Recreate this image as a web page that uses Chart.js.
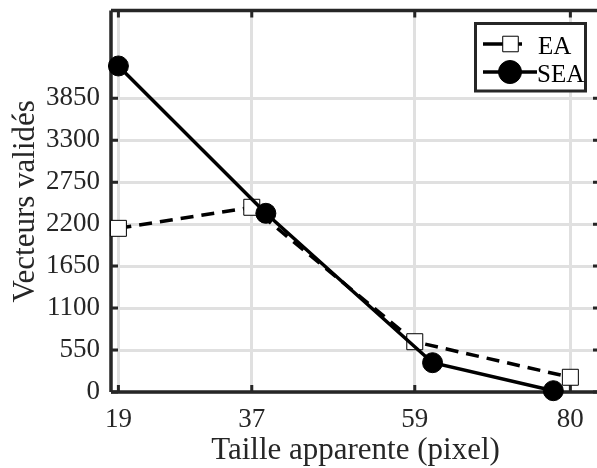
<!DOCTYPE html>
<html><head><meta charset="utf-8">
<script src="https://cdn.jsdelivr.net/npm/chart.js@4/dist/chart.umd.min.js"></script>
<style>html,body{margin:0;padding:0;overflow:hidden;background:#fff;width:597px;height:468px}canvas{display:block}</style>
</head><body>
<canvas id="c" width="600" height="468"></canvas>
<script>
const xTicks = [19, 37, 59, 80];
const yTicks = [0, 550, 1100, 1650, 2200, 2750, 3300, 3850];
const eaX = [19, 37, 59, 80];
const eaY = [2145, 2421, 659, 193];
const seaX = [19, 38.9, 61.4, 77.7];
const seaY = [4273, 2342, 384, 17];
const seriesNames = ['EA', 'SEA'];
const xTitle = 'Taille apparente (pixel)';
const yTitle = 'Vecteurs validés';

const DARK = '#262626';
const GRID = '#e0e0e0';
const SERIF = '"Liberation Serif", "Times New Roman", serif';

const toPts = (xs, ys) => xs.map((x, i) => ({x: x, y: ys[i]}));

const framePlugin = {
  id: 'frame',
  beforeDatasetsDraw(chart) {
    const ctx = chart.ctx, a = chart.chartArea;
    const xs = chart.scales.x, ys = chart.scales.y;
    ctx.save();
    ctx.strokeStyle = DARK;
    ctx.lineWidth = 3.5;
    ctx.beginPath();
    ctx.moveTo(a.left, a.top); ctx.lineTo(a.right, a.top);
    ctx.moveTo(a.left, a.top); ctx.lineTo(a.left, a.bottom);
    ctx.moveTo(a.left, a.bottom); ctx.lineTo(a.right, a.bottom);
    ctx.moveTo(a.right, a.top); ctx.lineTo(a.right, a.bottom);
    ctx.stroke();
    ctx.lineWidth = 3;
    ctx.beginPath();
    xTicks.forEach(v => {
      const px = xs.getPixelForValue(v);
      ctx.moveTo(px, a.bottom); ctx.lineTo(px, a.bottom - 7);
      ctx.moveTo(px, a.top); ctx.lineTo(px, a.top + 7);
    });
    yTicks.forEach(v => {
      const py = ys.getPixelForValue(v);
      ctx.moveTo(a.left, py); ctx.lineTo(a.left + 7, py);
      ctx.moveTo(a.right, py); ctx.lineTo(a.right - 7, py);
    });
    ctx.stroke();
    ctx.restore();
  },
  afterDraw(chart) {
    const ctx = chart.ctx;
    const ds = chart.data.datasets;
    ctx.save();
    ctx.fillStyle = '#fff';
    ctx.fillRect(475.5, 23.5, 110, 67.5);
    ctx.strokeStyle = DARK;
    ctx.lineWidth = 3;
    ctx.strokeRect(475.5, 23.5, 110, 67.5);
    const rows = [
      {y: 44, x1: 483, x2: 522, mx: 510.5, base: 53.5},
      {y: 72, x1: 483, x2: 537, mx: 510, base: 81.5}
    ];
    rows.forEach((r, i) => {
      const d = ds[i];
      ctx.strokeStyle = '#000';
      ctx.lineWidth = 3.5;
      ctx.setLineDash([]);
      ctx.beginPath(); ctx.moveTo(r.x1, r.y); ctx.lineTo(r.x2, r.y); ctx.stroke();
      ctx.fillStyle = d.pointBackgroundColor;
      ctx.strokeStyle = d.pointBorderColor;
      ctx.lineWidth = d.pointBorderWidth;
      Chart.helpers.drawPoint(ctx, {pointStyle: d.pointStyle, radius: i === 0 ? 11 : 11.5, borderWidth: d.pointBorderWidth, rotation: 0}, r.mx, r.y);
      ctx.fillStyle = '#000';
      ctx.font = '25px ' + SERIF;
      ctx.textBaseline = 'alphabetic';
      ctx.textAlign = 'left';
      ctx.fillText(d.label, i === 0 ? 538 : 537, r.base);
    });
    ctx.restore();
  }
};

new Chart(document.getElementById('c'), {
  type: 'line',
  data: {
    datasets: [
      {
        label: seriesNames[0], data: toPts(eaX, eaY), order: 1,
        borderColor: '#000', borderWidth: 3.5, borderDash: [13, 8],
        pointStyle: 'rect', pointRadius: 11.3, pointBackgroundColor: '#fff',
        pointBorderColor: '#000', pointBorderWidth: 1, clip: false, tension: 0
      },
      {
        label: seriesNames[1], data: toPts(seaX, seaY), order: 0,
        borderColor: '#000', borderWidth: 3.5,
        pointStyle: 'circle', pointRadius: 10, pointBackgroundColor: '#000',
        pointBorderColor: '#000', pointBorderWidth: 1, clip: false, tension: 0
      }
    ]
  },
  options: {
    responsive: false, animation: false, events: [],
    layout: {autoPadding: false, padding: {top: 10.5, right: 0, left: 0, bottom: 0}},
    plugins: {legend: {display: false}, tooltip: {enabled: false}},
    scales: {
      x: {
        type: 'linear', min: 18, max: 84,
        afterBuildTicks: s => { s.ticks = xTicks.map(v => ({value: v})); },
        afterFit: s => { s.height = 76; s.paddingLeft = 0; s.paddingRight = 0; },
        grid: {color: GRID, lineWidth: 3, drawTicks: false},
        border: {display: false},
        ticks: {color: DARK, font: {family: SERIF, size: 27}, padding: 12, maxRotation: 0, autoSkip: false, callback: v => String(v)},
        title: {display: true, text: xTitle, color: DARK, font: {family: SERIF, size: 31, lineHeight: 1}, padding: {top: 1.5, bottom: 1.5}}
      },
      y: {
        type: 'linear', min: 0, max: 5000,
        afterBuildTicks: s => { s.ticks = yTicks.map(v => ({value: v})); },
        afterFit: s => { s.width = 111; s.paddingTop = 0; s.paddingBottom = 0; },
        grid: {color: GRID, lineWidth: 3, drawTicks: false},
        border: {display: false},
        ticks: {color: DARK, font: {family: SERIF, size: 27}, padding: 11, autoSkip: false, callback: v => String(v)},
        title: {display: true, text: yTitle, color: DARK, font: {family: SERIF, size: 31, lineHeight: 1}, padding: {top: 10, bottom: 0}}
      }
    }
  },
  plugins: [framePlugin]
});
</script>
</body></html>
